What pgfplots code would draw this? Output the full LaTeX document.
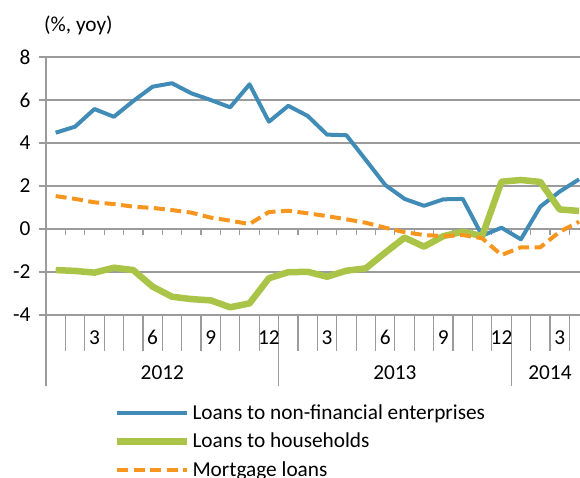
\documentclass[border=0pt]{standalone}
\usepackage{pgfplots}
\pgfplotsset{compat=1.18}
\usepackage{fontspec}
\setmainfont{Carlito}
\definecolor{cblue}{RGB}{65,140,182}
\definecolor{cgreen}{RGB}{170,196,72}
\definecolor{corange}{RGB}{247,150,30}
\definecolor{cgrid}{RGB}{155,155,155}
\newcommand{\tf}{\fontsize{21.3}{25}\selectfont}

\pgfplotstableread{
x nfe hh mort
1  4.48 -1.91 1.53
2  4.76 -1.95 1.40
3  5.58 -2.03 1.24
4  5.22 -1.80 1.16
5  5.95 -1.91 1.04
6  6.62 -2.68 0.98
7  6.78 -3.15 0.88
8  6.31 -3.26 0.76
9  6.00 -3.32 0.53
10 5.66 -3.64 0.39
11 6.73 -3.46 0.23
12 4.99 -2.29 0.79
13 5.73 -2.01 0.85
14 5.26 -1.99 0.73
15 4.39 -2.22 0.60
16 4.36 -1.94 0.45
17 3.21 -1.83 0.29
18 2.05 -1.10 0.06
19 1.40 -0.40 -0.15
20 1.08 -0.82 -0.28
21 1.38 -0.33 -0.33
22 1.40 -0.13 -0.28
23 -0.31 -0.33 -0.43
24 0.06 2.20 -1.21
25 -0.48 2.28 -0.85
26 1.04 2.19 -0.85
27 1.74 0.91 -0.13
28 2.31 0.84 0.34
}\datatable

\begin{document}
\begin{tikzpicture}
\useasboundingbox (0pt,0pt) rectangle (580pt,477pt);
\clip (0pt,0pt) rectangle (580pt,477pt);
\begin{axis}[
  at={(46pt,162pt)}, anchor=south west,
  scale only axis, width=534pt, height=258pt,
  xmin=0.5, xmax=28.05, ymin=-4, ymax=8,
  ytick={-4,-2,...,8},
  xtick=\empty,
  ymajorgrids,
  grid style={cgrid, line width=1.2pt},
  axis line style={draw=none},
  ytick style={cgrid, line width=1.2pt},
  tick align=outside,
  major tick length=7pt,
  yticklabel style={font=\tf, xshift=-5pt},
  /pgf/number format/assume math mode=true,
  clip=false,
  legend style={at={(0.127,-0.338)}, anchor=north west, draw=none, fill=none,
    font=\tf, inner sep=0pt, row sep=8.5pt, legend cell align=left,
    nodes={inner sep=2pt}},
  legend image code/.code={\draw[#1] (0pt,0pt) -- (70pt,0pt);},
]
\draw[cgrid, line width=1.2pt] (axis cs:0.5,8) -- (axis cs:0.5,-4) -- ++(0pt,-71pt);
\draw[cgrid, line width=1.2pt] (axis cs:12.5,-4) -- ++(0pt,-71pt);
\draw[cgrid, line width=1.2pt] (axis cs:24.5,-4) -- ++(0pt,-71pt);
\pgfplotsinvokeforeach{1.5,2.5,...,27.5}{
  \draw[cgrid, line width=1.2pt] (axis cs:#1,0) -- ++(0pt,-6pt);
  \draw[cgrid, line width=1.2pt] (axis cs:#1,-4) -- ++(0pt,-36pt);
}
\addplot[cblue, line width=4pt, line join=round] table[x=x,y=nfe] {\datatable};
\addlegendentry{Loans to non-financial enterprises}
\addplot[cgreen, line width=6.5pt, line join=round] table[x=x,y=hh] {\datatable};
\addlegendentry{Loans to households}
\addplot[corange, line width=4pt, dash pattern=on 11pt off 5.5pt] table[x=x,y=mort] {\datatable};
\addlegendentry{Mortgage loans}
\node[font=\tf, yshift=-22.5pt] at (axis cs:3,-4) {3};
\node[font=\tf, yshift=-22.5pt] at (axis cs:6,-4) {6};
\node[font=\tf, yshift=-22.5pt] at (axis cs:9,-4) {9};
\node[font=\tf, yshift=-22.5pt] at (axis cs:12,-4) {12};
\node[font=\tf, yshift=-22.5pt] at (axis cs:15,-4) {3};
\node[font=\tf, yshift=-22.5pt] at (axis cs:18,-4) {6};
\node[font=\tf, yshift=-22.5pt] at (axis cs:21,-4) {9};
\node[font=\tf, yshift=-22.5pt] at (axis cs:24,-4) {12};
\node[font=\tf, yshift=-22.5pt] at (axis cs:27,-4) {3};
\node[font=\tf, yshift=-58pt] at (axis cs:6.5,-4) {2012};
\node[font=\tf, yshift=-58pt] at (axis cs:18.5,-4) {2013};
\node[font=\tf, yshift=-58pt] at (axis cs:26.5,-4) {2014};
\end{axis}
\node[font=\tf, anchor=west, inner sep=0pt] at (44pt,452pt) {(\%, yoy)};
\end{tikzpicture}
\end{document}
